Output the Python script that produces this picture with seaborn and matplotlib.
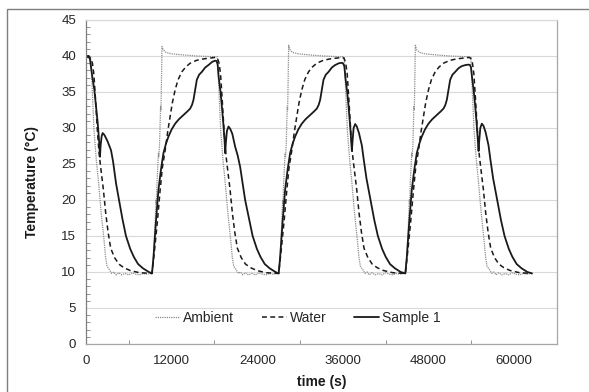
import matplotlib
matplotlib.use("Agg")
import matplotlib.pyplot as plt
from matplotlib.patches import Rectangle
from matplotlib.ticker import MultipleLocator
import pandas as pd
import seaborn as sns

# ---------------- data ----------------
ambient_t = [0, 300, 660, 850, 1120, 1450, 1750, 2100, 2530, 2750, 2950, 3300, 3600, 3900, 4200, 4600, 5000, 5500, 6000, 6500, 7000, 7500, 8000, 8500, 9000,
             9250, 9450, 9650, 9800, 9850, 9950, 10050, 10150, 10200, 10300, 10400, 10450, 10500, 10550, 10650, 10800, 11200, 12000, 13600, 15500, 17900, 18300,
             18410, 18600, 18870, 19200, 19500, 19850, 20280, 20500, 20700, 21050, 21350, 21650, 21950, 22350, 22750, 23250, 23750, 24250, 24750, 25250, 25750, 26250, 26750,
             27000, 27200, 27400, 27550, 27600, 27700, 27800, 27900, 27950, 28050, 28150, 28200, 28250, 28300, 28400, 28550, 28950, 29750, 31350, 33250, 35650, 36050,
             36160, 36350, 36620, 36950, 37250, 37600, 38030, 38250, 38450, 38800, 39100, 39400, 39700, 40100, 40500, 41000, 41500, 42000, 42500, 43000, 43500, 44000, 44500,
             44750, 44950, 45150, 45300, 45350, 45450, 45550, 45650, 45700, 45800, 45900, 45950, 46000, 46050, 46150, 46300, 46700, 47500, 49100, 51000, 53400, 53800,
             53910, 54100, 54370, 54700, 55000, 55350, 55780, 56000, 56200, 56550, 56850, 57150, 57450, 57850, 58250, 58750, 59250, 59750, 60250, 60750, 61250, 61750, 62250, 62500]
ambient_T = [40.1, 40.0, 39.9, 36.0, 29.7, 25.5, 22.5, 18.5, 14.4, 12.0, 10.8, 10.3, 9.8, 10.0, 9.6, 9.9, 9.6, 9.8, 9.6, 9.9, 9.7, 9.6, 9.8, 9.7, 9.8,
             9.8, 12.0, 16.0, 20.0, 19.5, 22.5, 24.5, 26.5, 26.0, 27.5, 31.0, 33.0, 32.5, 35.0, 41.3, 40.9, 40.5, 40.3, 40.15, 40.0, 39.9, 39.9,
             39.9, 36.0, 29.7, 25.5, 22.5, 18.5, 14.4, 12.0, 10.8, 10.3, 9.8, 10.0, 9.6, 9.9, 9.6, 9.8, 9.6, 9.9, 9.7, 9.6, 9.8, 9.7, 9.8,
             9.8, 12.0, 16.0, 20.0, 19.5, 22.5, 24.5, 26.5, 26.0, 27.5, 31.0, 33.0, 32.5, 35.0, 41.5, 40.9, 40.5, 40.3, 40.15, 40.0, 39.9, 39.9,
             39.9, 36.0, 29.7, 25.5, 22.5, 18.5, 14.4, 12.0, 10.8, 10.3, 9.8, 10.0, 9.6, 9.9, 9.6, 9.8, 9.6, 9.9, 9.7, 9.6, 9.8, 9.7, 9.8,
             9.8, 12.0, 16.0, 20.0, 19.5, 22.5, 24.5, 26.5, 26.0, 27.5, 31.0, 33.0, 32.5, 35.0, 41.6, 40.9, 40.5, 40.3, 40.15, 40.0, 39.9, 39.9,
             39.9, 36.0, 29.7, 25.5, 22.5, 18.5, 14.4, 12.0, 10.8, 10.3, 9.8, 10.0, 9.6, 9.9, 9.6, 9.8, 9.6, 9.9, 9.7, 9.6, 9.8, 9.7, 9.8, 9.8]

water_t = [0, 660, 900, 1100, 1300, 1590, 1850, 2100, 2430, 2760, 3100, 3460, 4000, 4600, 5300, 6200, 7500,
           9250, 9600, 10000, 10390, 10700, 11090, 11450, 11790, 12100, 12490, 12900, 13430, 14000, 14600, 15500, 16460, 18100,
           18410, 18650, 18850, 19050, 19340, 19600, 19850, 20180, 20510, 20850, 21210, 21750, 22350, 23050, 23950, 25250,
           27000, 27350, 27750, 28140, 28450, 28840, 29200, 29540, 29850, 30240, 30650, 31180, 31750, 32350, 33250, 34210, 35850,
           36160, 36400, 36600, 36800, 37090, 37350, 37600, 37930, 38260, 38600, 38960, 39500, 40100, 40800, 41700, 43000,
           44750, 45100, 45500, 45890, 46200, 46590, 46950, 47290, 47600, 47990, 48400, 48930, 49500, 50100, 51000, 51960, 53600,
           53910, 54150, 54350, 54550, 54840, 55100, 55350, 55680, 56010, 56350, 56710, 57250, 57850, 58550, 59450, 60750, 62500]
water_T = [39.9, 39.7, 39.0, 37.5, 34.5, 29.7, 26.3, 24.2, 21.5, 18.2, 15.5, 13.3, 12.0, 11.1, 10.6, 10.2, 9.9,
           9.8, 13.0, 17.0, 21.4, 24.5, 26.9, 29.5, 31.6, 33.5, 35.3, 36.7, 37.8, 38.5, 39.0, 39.4, 39.6, 39.8,
           39.7, 39.0, 37.5, 34.5, 29.7, 26.3, 24.2, 21.5, 18.2, 15.5, 13.3, 12.0, 11.1, 10.6, 10.2, 9.9,
           9.8, 13.0, 17.0, 21.4, 24.5, 26.9, 29.5, 31.6, 33.5, 35.3, 36.7, 37.8, 38.5, 39.0, 39.4, 39.6, 39.8,
           39.7, 39.0, 37.5, 34.5, 29.7, 26.3, 24.2, 21.5, 18.2, 15.5, 13.3, 12.0, 11.1, 10.6, 10.2, 9.9,
           9.8, 13.0, 17.0, 21.4, 24.5, 26.9, 29.5, 31.6, 33.5, 35.3, 36.7, 37.8, 38.5, 39.0, 39.4, 39.6, 39.8,
           39.7, 39.0, 37.5, 34.5, 29.7, 26.3, 24.2, 21.5, 18.2, 15.5, 13.3, 12.0, 11.1, 10.6, 10.2, 9.9, 9.8]

sample_t = [0, 400, 550, 700, 900, 1170, 1400, 1640, 1850, 1960, 2050, 2200, 2340, 2600, 3000, 3510, 3800, 4210, 4630, 5100, 5600, 6200, 6700, 7300, 8000, 8800,
            9250, 9450, 9800, 10150, 10500, 10850, 11200, 11550, 12000, 12490, 13000, 13660, 14200, 14600, 14850, 15060, 15300, 15530, 15850, 16240, 16700, 17170, 17700, 18100, 18300,
            18450, 18600, 18850, 19040, 19250, 19420, 19510, 19600, 19750, 19970, 20200, 20500, 20900, 21250, 21600, 21950, 22300, 22850, 23350, 23950, 24450, 25050, 25750, 26550,
            27000, 27200, 27550, 27900, 28250, 28600, 28950, 29300, 29750, 30240, 30750, 31410, 31950, 32350, 32600, 32810, 33050, 33280, 33600, 33990, 34450, 34920, 35450, 35850, 36000,
            36200, 36350, 36600, 36790, 37000, 37170, 37260, 37350, 37500, 37720, 37950, 38250, 38650, 38920, 39300, 39600, 39860, 40400, 40900, 41500, 42000, 42600, 43300, 44100,
            44750, 44950, 45300, 45650, 46000, 46350, 46700, 47050, 47500, 47990, 48500, 49160, 49700, 50100, 50350, 50560, 50800, 51030, 51350, 51740, 52200, 52670, 53200, 53600, 53800,
            53950, 54100, 54350, 54540, 54750, 54920, 55010, 55100, 55250, 55470, 55700, 56000, 56400, 56670, 57050, 57350, 57610, 58150, 58650, 59250, 59750, 60350, 61050, 61850, 62500]
sample_T = [40.0, 40.0, 39.6, 38.5, 37.0, 35.3, 33.0, 30.7, 28.0, 26.0, 27.6, 28.9, 29.3, 29.0, 28.2, 26.9, 25.3, 22.3, 20.0, 17.4, 15.0, 13.2, 12.1, 11.1, 10.5, 10.0,
            9.8, 12.0, 17.0, 21.4, 24.2, 26.5, 27.8, 28.8, 29.8, 30.6, 31.2, 31.8, 32.3, 32.7, 33.2, 33.9, 35.3, 36.7, 37.4, 37.8, 38.4, 38.75, 39.2, 39.35, 39.3,
            38.8, 37.0, 35.0, 33.0, 30.5, 28.2, 26.5, 28.0, 29.6, 30.2, 29.9, 29.2, 27.4, 26.2, 24.6, 22.3, 20.0, 17.4, 15.0, 13.2, 12.1, 11.1, 10.5, 10.0,
            9.8, 12.0, 17.0, 21.4, 24.2, 26.5, 27.8, 28.8, 29.8, 30.6, 31.2, 31.8, 32.3, 32.7, 33.2, 33.9, 35.3, 36.7, 37.4, 37.8, 38.4, 38.75, 39.0, 39.05, 39.0,
            38.6, 37.0, 35.0, 33.0, 30.5, 28.2, 26.8, 28.2, 30.0, 30.55, 30.2, 29.3, 27.6, 25.6, 23.0, 21.4, 20.0, 17.2, 15.0, 13.2, 12.1, 11.1, 10.5, 10.0,
            9.8, 12.0, 17.0, 21.4, 24.2, 26.5, 27.8, 28.8, 29.8, 30.6, 31.2, 31.8, 32.3, 32.7, 33.2, 33.9, 35.3, 36.7, 37.4, 37.8, 38.3, 38.6, 38.75, 38.8, 38.75,
            38.4, 37.0, 35.0, 33.0, 30.5, 28.2, 26.8, 28.2, 30.0, 30.6, 30.3, 29.4, 27.6, 25.6, 23.0, 21.4, 20.0, 17.2, 15.0, 13.2, 12.1, 11.1, 10.5, 10.0, 9.8]

series_names = ["Ambient", "Water", "Sample 1"]
x_ticks = [0, 12000, 24000, 36000, 48000, 60000]
y_ticks = [0, 5, 10, 15, 20, 25, 30, 35, 40, 45]

# ---------------- style ----------------
sns.set_style("white")
plt.rcParams["font.family"] = ["Liberation Sans", "DejaVu Sans"]
plt.rcParams["font.size"] = 9

fig = plt.figure(figsize=(5.89, 3.92), dpi=100)
ax = fig.add_axes([86 / 589, 1 - 344 / 392, (557 - 86) / 589, (344 - 20) / 392])

# outer frame around the whole chart
fig.patches.append(Rectangle((7 / 589, -0.02), 1.0, 1 - 9 / 392 + 0.02,
                             transform=fig.transFigure, fill=False,
                             edgecolor="#7f7f7f", lw=1.0, zorder=0))

ax.yaxis.grid(True, color="#d9d9d9", lw=0.8, zorder=0)
ax.set_axisbelow(True)

df_a = pd.DataFrame({"t": ambient_t, "T": ambient_T})
df_w = pd.DataFrame({"t": water_t, "T": water_T})
df_s = pd.DataFrame({"t": sample_t, "T": sample_T})

sns.lineplot(data=df_a, x="t", y="T", ax=ax, color="#8c8c8c", lw=0.9,
             linestyle=(0, (1, 0.8)), estimator=None, sort=False, label=series_names[0])
sns.lineplot(data=df_w, x="t", y="T", ax=ax, color="#1a1a1a", lw=1.1,
             linestyle=(0, (3.2, 2.2)), estimator=None, sort=False, label=series_names[1])
sns.lineplot(data=df_s, x="t", y="T", ax=ax, color="#1a1a1a", lw=1.3,
             linestyle="-", estimator=None, sort=False, label=series_names[2])

ax.set_xlim(0, 66000)
ax.set_ylim(0, 45)
ax.set_xticks(x_ticks)
ax.set_xticklabels([str(v) for v in x_ticks])
ax.set_yticks(y_ticks)
ax.set_yticklabels([str(v) for v in y_ticks])
ax.xaxis.set_minor_locator(MultipleLocator(6000))
ax.yaxis.set_minor_locator(MultipleLocator(1))

ax.tick_params(axis="both", which="major", direction="inout", length=6, width=0.8,
               color="#7f7f7f", labelcolor="#262626", labelsize=9.5)
ax.tick_params(axis="y", which="major", pad=4)
ax.tick_params(axis="x", which="major", pad=5)
ax.tick_params(axis="y", which="minor", direction="in", length=3, width=0.6, color="#7f7f7f", left=True)
ax.tick_params(axis="x", which="minor", direction="in", length=3, width=0.6, color="#7f7f7f", bottom=True)

for side, col in [("left", "#7f7f7f"), ("bottom", "#a6a6a6"), ("right", "#a6a6a6"), ("top", "#d9d9d9")]:
    ax.spines[side].set_visible(True)
    ax.spines[side].set_color(col)
    ax.spines[side].set_linewidth(0.9)

ax.set_xlabel("time (s)", fontsize=10, fontweight="bold", color="#1a1a1a", labelpad=6)
ax.set_ylabel("Temperature (°C)", fontsize=10, fontweight="bold", color="#1a1a1a", labelpad=16)

ax.legend(ncol=3, frameon=False, loc="center", bbox_to_anchor=(0.45, 0.08),
          handlelength=1.8, handletextpad=0.2, columnspacing=2.0, fontsize=10)

fig.savefig("out.png", dpi=100)
